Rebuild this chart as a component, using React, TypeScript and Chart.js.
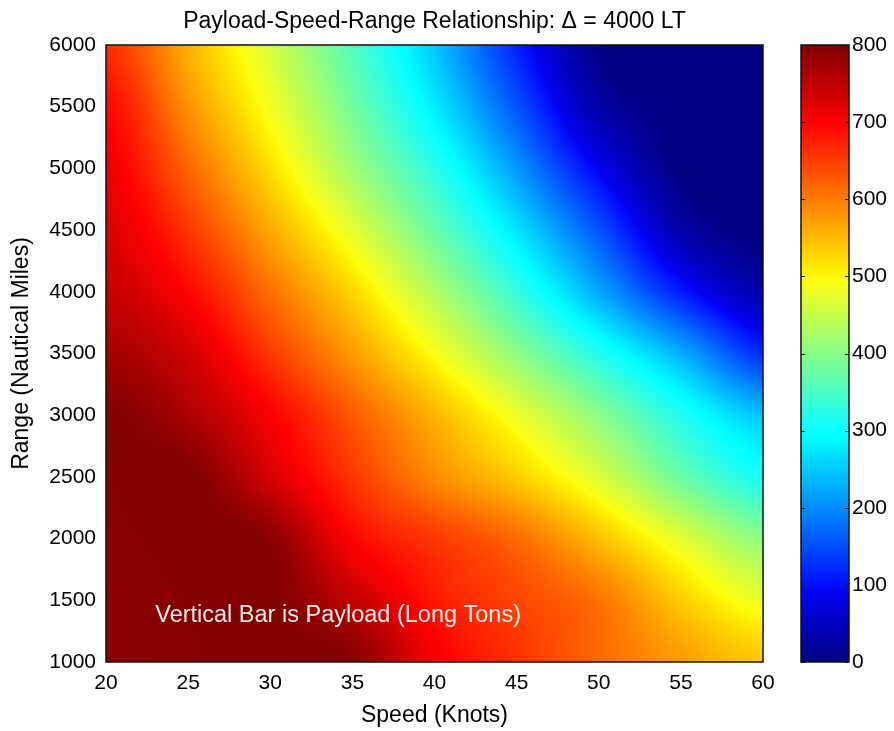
import { useEffect, useRef } from "react";
import { Chart, registerables } from "chart.js";

Chart.register(...registerables);

// ---- Data ----
const SPEEDS = [20, 25, 30, 35, 40, 45, 50, 55, 60]; // knots
const RANGES = [1000, 1500, 2000, 2500, 3000, 3500, 4000, 4500, 5000, 5500, 6000]; // nautical miles

// Payload (long tons) at each speed, one array per range
const PAYLOAD_1000 = [792, 795, 798, 796, 707, 659, 614, 575, 540];
const PAYLOAD_1500 = [792, 796, 800, 748, 681, 644, 607, 535, 480];
const PAYLOAD_2000 = [793, 799, 792, 697, 654, 613, 546, 472, 405];
const PAYLOAD_2500 = [795, 802, 732, 656, 589, 535, 466, 377, 310];
const PAYLOAD_3000 = [800, 765, 702, 627, 554, 480, 402, 317, 245];
const PAYLOAD_3500 = [772, 735, 654, 575, 493, 405, 318, 229, 125];
const PAYLOAD_4000 = [745, 695, 610, 527, 433, 334, 225, 111, 35];
const PAYLOAD_4500 = [728, 656, 564, 473, 375, 272, 156, 35, 0];
const PAYLOAD_5000 = [712, 618, 521, 420, 326, 211, 88, 0, 0];
const PAYLOAD_5500 = [695, 583, 486, 384, 278, 156, 32, 0, 0];
const PAYLOAD_6000 = [665, 557, 462, 358, 248, 117, 5, 0, 0];

const PAYLOAD_ROWS = [
  PAYLOAD_1000, PAYLOAD_1500, PAYLOAD_2000, PAYLOAD_2500, PAYLOAD_3000, PAYLOAD_3500,
  PAYLOAD_4000, PAYLOAD_4500, PAYLOAD_5000, PAYLOAD_5500, PAYLOAD_6000,
];

const X_TICKS = [20, 25, 30, 35, 40, 45, 50, 55, 60];
const Y_TICKS = [1000, 1500, 2000, 2500, 3000, 3500, 4000, 4500, 5000, 5500, 6000];
const CB_TICKS = [0, 100, 200, 300, 400, 500, 600, 700, 800];
const C_MIN = 0;
const C_MAX = 800;

const TITLE = "Payload-Speed-Range Relationship: \u0394 = 4000 LT";
const X_LABEL = "Speed (Knots)";
const Y_LABEL = "Range (Nautical Miles)";
const NOTE = "Vertical Bar is Payload (Long Tons)";
const NOTE_SPEED = 23;
const NOTE_RANGE = 1325;

// ---- helpers ----
const FONT_FAMILY = "'Liberation Sans', Arial, sans-serif";

function u(k: number): number {
  if (k < 1 || k > 47) return 0;
  if (k <= 16) return k / 16;
  if (k <= 31) return 1;
  return (48 - k) / 16;
}

// MATLAB jet(64) table
const JET: [number, number, number][] = [];
for (let i = 1; i <= 64; i++) JET.push([u(i - 24), u(i - 8), u(i + 7)]);

// continuous lookup in the jet table
function jetColor(v: number): [number, number, number] {
  let f = (v - C_MIN) / (C_MAX - C_MIN);
  if (f < 0) f = 0;
  if (f > 1) f = 1;
  const p = f * 63;
  const i = Math.min(62, Math.floor(p));
  const t = p - i;
  const a = JET[i];
  const b = JET[i + 1];
  return [
    Math.round((a[0] + (b[0] - a[0]) * t) * 255),
    Math.round((a[1] + (b[1] - a[1]) * t) * 255),
    Math.round((a[2] + (b[2] - a[2]) * t) * 255),
  ];
}

function locate(arr: number[], v: number): [number, number] {
  let i = 0;
  while (i < arr.length - 2 && v > arr[i + 1]) i++;
  let t = (v - arr[i]) / (arr[i + 1] - arr[i]);
  if (t < 0) t = 0;
  if (t > 1) t = 1;
  return [i, t];
}

function cr(p0: number, p1: number, p2: number, p3: number, t: number): number {
  const t2 = t * t;
  const t3 = t2 * t;
  return 0.5 * (2 * p1 + (-p0 + p2) * t + (2 * p0 - 5 * p1 + 4 * p2 - p3) * t2 + (-p0 + 3 * p1 - 3 * p2 + p3) * t3);
}

function cell(j: number, i: number): number {
  const jj = Math.max(0, Math.min(RANGES.length - 1, j));
  const ii = Math.max(0, Math.min(SPEEDS.length - 1, i));
  return PAYLOAD_ROWS[jj][ii];
}

// smooth (bicubic) shading between the read grid values
function payloadAt(s: number, r: number): number {
  const [i, ti] = locate(SPEEDS, s);
  const [j, tj] = locate(RANGES, r);
  const rows: number[] = [];
  for (let dj = -1; dj <= 2; dj++) {
    rows.push(cr(cell(j + dj, i - 1), cell(j + dj, i), cell(j + dj, i + 1), cell(j + dj, i + 2), ti));
  }
  return cr(rows[0], rows[1], rows[2], rows[3], tj);
}

const heatmapPlugin = {
  id: "heatmap",
  beforeDatasetsDraw(chart: any) {
    const { ctx, chartArea: a, scales } = chart;
    const x = scales.x;
    const y = scales.y;
    const w = Math.round(a.right - a.left);
    const h = Math.round(a.bottom - a.top);
    const off = document.createElement("canvas");
    off.width = w;
    off.height = h;
    const octx = off.getContext("2d")!;
    const img = octx.createImageData(w, h);
    const sp: number[] = [];
    for (let px = 0; px < w; px++) sp.push(x.getValueForPixel(a.left + px + 0.5));
    for (let py = 0; py < h; py++) {
      const r = y.getValueForPixel(a.top + py + 0.5);
      for (let px = 0; px < w; px++) {
        const v = payloadAt(sp[px], r);
        const [R, G, B] = jetColor(v);
        const k = (py * w + px) * 4;
        img.data[k] = R;
        img.data[k + 1] = G;
        img.data[k + 2] = B;
        img.data[k + 3] = 255;
      }
    }
    octx.putImageData(img, 0, 0);
    ctx.save();
    ctx.drawImage(off, a.left, a.top, w, h);
    ctx.restore();
  },
  afterDraw(chart: any) {
    const { ctx, chartArea: a, scales } = chart;
    ctx.save();
    ctx.strokeStyle = "#111";
    ctx.lineWidth = 1.5;
    ctx.strokeRect(a.left, a.top, a.right - a.left, a.bottom - a.top);
    // title
    ctx.fillStyle = "#000";
    ctx.font = `23px ${FONT_FAMILY}`;
    ctx.textAlign = "center";
    ctx.textBaseline = "alphabetic";
    ctx.fillText(TITLE, (a.left + a.right) / 2, 28);
    // note
    ctx.font = `23.5px ${FONT_FAMILY}`;
    ctx.fillStyle = "#f6eaea";
    ctx.textAlign = "left";
    ctx.fillText(NOTE, scales.x.getPixelForValue(NOTE_SPEED), scales.y.getPixelForValue(NOTE_RANGE));
    ctx.restore();
  },
};

const colorbarPlugin = {
  id: "colorbar",
  beforeDatasetsDraw(chart: any) {
    const { ctx, chartArea: a, scales } = chart;
    const y = scales.y;
    ctx.save();
    for (let py = Math.floor(a.top); py < Math.ceil(a.bottom); py++) {
      const v = y.getValueForPixel(py + 0.5);
      const [R, G, B] = jetColor(v);
      ctx.fillStyle = `rgb(${R},${G},${B})`;
      ctx.fillRect(a.left, py, a.right - a.left, 1);
    }
    ctx.restore();
  },
  afterDraw(chart: any) {
    const { ctx, chartArea: a, scales } = chart;
    ctx.save();
    ctx.strokeStyle = "#111";
    ctx.lineWidth = 1.5;
    ctx.strokeRect(a.left, a.top, a.right - a.left, a.bottom - a.top);
    ctx.lineWidth = 1;
    ctx.beginPath();
    for (const t of CB_TICKS) {
      const py = Math.round(scales.y.getPixelForValue(t)) + 0.5;
      ctx.moveTo(a.left, py);
      ctx.lineTo(a.left + 4, py);
      ctx.moveTo(a.right - 4, py);
      ctx.lineTo(a.right, py);
    }
    ctx.stroke();
    ctx.restore();
  },
};

const plain = (v: any) => String(v);

export default function App() {
  const mainRef = useRef<HTMLCanvasElement | null>(null);
  const cbRef = useRef<HTMLCanvasElement | null>(null);

  useEffect(() => {
    const tickFont = { family: FONT_FAMILY, size: 21 };
    const labelFont = { family: FONT_FAMILY, size: 23 };
    const points: { x: number; y: number }[] = [];
    RANGES.forEach((r) => SPEEDS.forEach((s) => points.push({ x: s, y: r })));

    const main = new Chart(mainRef.current!, {
      type: "scatter",
      data: { datasets: [{ data: points, pointRadius: 0, pointHoverRadius: 0, showLine: false }] },
      options: {
        animation: false,
        responsive: false,
        maintainAspectRatio: false,
        events: [],
        layout: { padding: { top: 45, right: 27, left: 0, bottom: 0 } },
        plugins: { legend: { display: false }, tooltip: { enabled: false }, title: { display: false } },
        scales: {
          x: {
            type: "linear",
            min: 20,
            max: 60,
            afterBuildTicks: (s: any) => {
              s.ticks = X_TICKS.map((v) => ({ value: v }));
            },
            afterFit: (s: any) => {
              s.height = 69;
            },
            grid: { display: false, drawTicks: false },
            border: { display: false },
            ticks: { font: tickFont, color: "#000", padding: 9, maxRotation: 0, autoSkip: false, callback: plain },
            title: { display: true, text: X_LABEL, font: labelFont, color: "#000", padding: { top: 0, bottom: 2 } },
          },
          y: {
            type: "linear",
            min: 1000,
            max: 6000,
            afterBuildTicks: (s: any) => {
              s.ticks = Y_TICKS.map((v) => ({ value: v }));
            },
            afterFit: (s: any) => {
              s.width = 106;
            },
            grid: { display: false, drawTicks: false },
            border: { display: false },
            ticks: { font: tickFont, color: "#000", padding: 10, autoSkip: false, callback: plain },
            title: { display: true, text: Y_LABEL, font: labelFont, color: "#000", padding: { top: 8, bottom: 0 } },
          },
        },
      },
      plugins: [heatmapPlugin],
    } as any);

    const cb = new Chart(cbRef.current!, {
      type: "scatter",
      data: { datasets: [{ data: [], pointRadius: 0 }] },
      options: {
        animation: false,
        responsive: false,
        maintainAspectRatio: false,
        events: [],
        layout: { padding: { top: 45, right: 0, left: 11, bottom: 69 } },
        plugins: { legend: { display: false }, tooltip: { enabled: false } },
        scales: {
          x: { type: "linear", display: false, min: 0, max: 1 },
          y: {
            type: "linear",
            position: "right",
            min: C_MIN,
            max: C_MAX,
            afterBuildTicks: (s: any) => {
              s.ticks = CB_TICKS.map((v) => ({ value: v }));
            },
            afterFit: (s: any) => {
              s.width = 45;
            },
            grid: { display: false, drawTicks: false },
            border: { display: false },
            ticks: { font: tickFont, color: "#000", padding: 3, autoSkip: false, callback: plain },
          },
        },
      },
      plugins: [colorbarPlugin],
    } as any);

    return () => {
      main.destroy();
      cb.destroy();
    };
  }, []);

  return (
    <div style={{ position: "fixed", left: 0, top: 0, width: 894, height: 731, background: "#fff" }}>
      <canvas
        ref={mainRef}
        width={790}
        height={731}
        style={{ position: "absolute", left: 0, top: 0, width: 790, height: 731 }}
      />
      <canvas
        ref={cbRef}
        width={104}
        height={731}
        style={{ position: "absolute", left: 790, top: 0, width: 104, height: 731 }}
      />
    </div>
  );
}
